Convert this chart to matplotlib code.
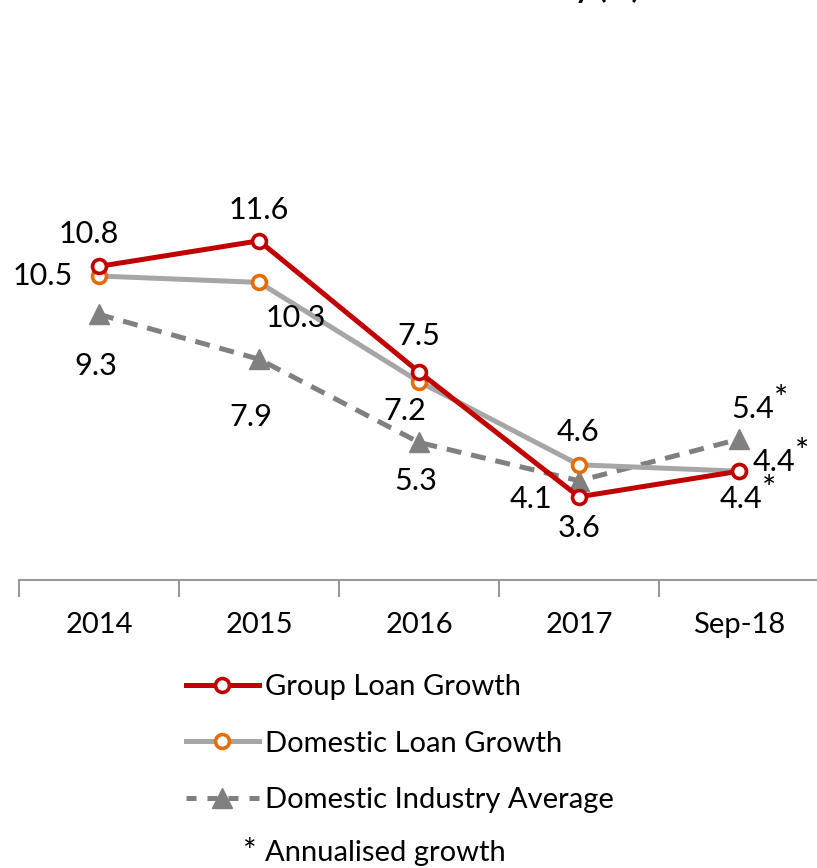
import matplotlib
matplotlib.use("Agg")
import matplotlib.pyplot as plt
from matplotlib.lines import Line2D

plt.rcParams['font.family'] = ['Lato', 'DejaVu Sans']

categories = ["2014", "2015", "2016", "2017", "Sep-18"]
group_loan = [10.8, 11.6, 7.5, 3.6, 4.4]
domestic_loan = [10.5, 10.3, 7.2, 4.6, 4.4]
industry_avg = [9.3, 7.9, 5.3, 4.1, 5.4]
annualised = [False, False, False, False, True]

RED = "#C00000"
LGREY = "#A6A6A6"
ORANGE = "#E46C0A"
DGREY = "#808080"
FS = 22
TICK_FS = 21
LEG_FS = 21

W, H = 817, 868
fig = plt.figure(figsize=(W / 100, H / 100), dpi=100)
ax = fig.add_axes([19 / W, (H - 580) / H, 800 / W, 416 / H])

x = list(range(len(categories)))
ax.plot(x, domestic_loan, color=LGREY, lw=3.6, marker="o", ms=10,
        mfc="white", mec=ORANGE, mew=2.6, zorder=3, solid_capstyle="round")
ax.plot(x, industry_avg, color=DGREY, lw=3.6, ls=(0, (3, 2)), marker="^",
        ms=15, mfc=DGREY, mec=DGREY, zorder=2)
ax.plot(x, group_loan, color=RED, lw=3.6, marker="o", ms=10,
        mfc="white", mec=RED, mew=2.6, zorder=4, solid_capstyle="round")

ax.set_xlim(-0.5, len(categories) - 0.5)
ax.set_ylim(1.0, 14.0)
for s in ("left", "right", "top"):
    ax.spines[s].set_visible(False)
ax.spines["bottom"].set_color("#999999")
ax.spines["bottom"].set_linewidth(1.5)
ax.set_yticks([])
ax.set_xticks([i - 0.5 for i in range(len(categories) + 1)])
ax.set_xticklabels([])
ax.set_xticks(x, minor=True)
ax.set_xticklabels(categories, minor=True, fontsize=TICK_FS)
ax.tick_params(axis="x", which="major", length=12, width=1.5, color="#999999", direction="out")
ax.tick_params(axis="x", which="minor", length=0, pad=23)

# label offsets in pixels (dx, dy)
group_off = [(-10, 32), (0, 31), (0, 36), (0, -31), (2, -28)]
dom_off = [(-56, 0), (37, -36), (-14, -29), (-1, 33), (35, 9)]
ind_off = [(-3, -52), (-8, -58), (-3, -39), (-48, -18), (14, 30)]


def label_series(vals, offs):
    for i, (v, (dx, dy)) in enumerate(zip(vals, offs)):
        ax.annotate(f"{v:.1f}", (i, v), xytext=(dx, dy), textcoords="offset pixels",
                    ha="center", va="center", fontsize=FS, zorder=6)
        if annualised[i]:
            ax.annotate("*", (i, v), xytext=(dx + 28, dy + 9), textcoords="offset pixels",
                        ha="center", va="center", fontsize=FS + 2, zorder=6)


label_series(group_loan, group_off)
label_series(domestic_loan, dom_off)
label_series(industry_avg, ind_off)

handles = [
    Line2D([], [], color=RED, lw=3.6, marker="o", ms=10, mfc="white", mec=RED, mew=2.6),
    Line2D([], [], color=LGREY, lw=3.6, marker="o", ms=10, mfc="white", mec=ORANGE, mew=2.6),
    Line2D([], [], color=DGREY, lw=3.6, ls=(0, (2, 2.2)), marker="^", ms=15, mfc=DGREY, mec=DGREY),
]
labels = ["Group Loan Growth", "Domestic Loan Growth", "Domestic Industry Average"]
fig.legend(handles, labels, loc="upper left", bbox_to_anchor=(186 / W, (H - 674) / H),
           frameon=False, fontsize=LEG_FS, handlelength=2.5, handletextpad=0.2,
           labelspacing=1.05, borderpad=0, borderaxespad=0)

fig.text(250 / W, (H - 853) / H, "*", fontsize=LEG_FS + 2, ha="center", va="center")
fig.text(265 / W, (H - 853) / H, "Annualised growth", fontsize=LEG_FS, ha="left", va="center")
fig.text(640 / W, 1 + 2 / H, "Loan Growth vs Industry (%)", fontsize=FS, fontweight="bold",
         ha="right", va="baseline")

fig.savefig("out.png", dpi=100)
